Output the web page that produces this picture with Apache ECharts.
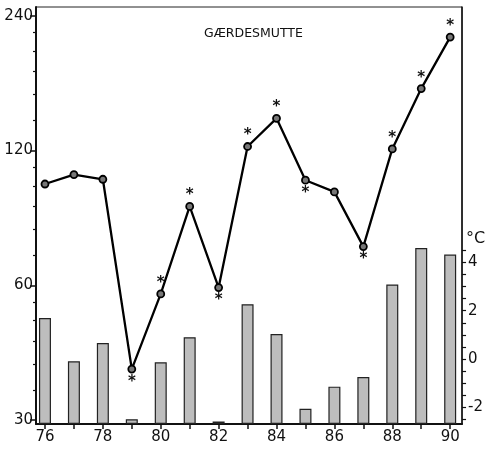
<!DOCTYPE html>
<html>
<head>
<meta charset="utf-8">
<script src="https://cdn.jsdelivr.net/npm/echarts@6/dist/echarts.min.js"></script>
<style>html,body{margin:0;padding:0;background:#fff}#c{width:486px;height:449px}</style>
</head>
<body>
<div id="c"></div>
<script>
// ---- data ----
var years = [76, 77, 78, 79, 80, 81, 82, 83, 84, 85, 86, 87, 88, 89, 90];
var birdIndex = [101, 106, 103.5, 39, 57.4, 90, 59.3, 122.5, 141.6, 103, 97, 73.2, 121, 165, 215];
var temperature = [1.7, -0.1, 0.66, -2.5, -0.14, 0.9, -2.6, 2.27, 1.03, -2.07, -1.15, -0.75, 3.09, 4.6, 4.33];
// asterisk markers: 'top' = above the point, 'bottom' = below, '' = none
var significance = ['', '', '', 'bottom', 'top', 'top', 'bottom', 'top', 'top', 'bottom', '', 'bottom', 'top', 'top', 'top'];
var xLabels = [76, 78, 80, 82, 84, 86, 88, 90];
var leftLabels = [30, 60, 120, 240];
var leftMinor = [35, 40, 45, 50, 55, 70, 80, 90, 100, 110, 140, 160, 180, 200, 220];
var rightLabels = [-2, 0, 2, 4];
var rightTicks = [-2.5, -2, -1.5, -1, -0.5, 0, 0.5, 1, 1.5, 2, 2.5, 3, 3.5, 4, 4.5];
var title = 'GÆRDESMUTTE';

// ---- chart ----
var tBase = -2.7, tTop = 14.6;
var FONT = 'DejaVu Sans';
var chart = echarts.init(document.getElementById('c'));

var barData = years.map(function (y, i) { return [y, temperature[i] - tBase]; });
var lineData = years.map(function (y, i) {
  var item = { value: [y, birdIndex[i]] };
  if (significance[i]) {
    item.label = { show: true, position: significance[i], distance: significance[i] === 'top' ? -1 : 1 };
  }
  return item;
});

chart.setOption({
  animation: false,
  title: {
    text: title, left: 199, top: 22,
    textStyle: { fontFamily: FONT, fontSize: 12.5, fontWeight: 'normal', color: '#111' }
  },
  graphic: [{
    type: 'text', left: 466, top: 231,
    style: { text: '°C', font: '16px ' + FONT, fill: '#111' }
  }],
  grid: { left: 36, right: 23, top: 7, bottom: 25, show: true, borderColor: '#222', borderWidth: 1 },
  xAxis: {
    type: 'value', min: 75.69, max: 90.41,
    axisLine: { show: true, lineStyle: { color: '#111', width: 2 } },
    axisTick: { show: true, length: 5, lineStyle: { color: '#111', width: 1.5 }, customValues: years },
    axisLabel: { customValues: xLabels, fontFamily: FONT, fontSize: 15, color: '#111', margin: 6 },
    splitLine: { show: false }
  },
  yAxis: [
    {
      type: 'log', logBase: 2, min: 29.4, max: 251, position: 'left',
      axisLine: { show: true, lineStyle: { color: '#111', width: 2 } },
      axisTick: { show: true, length: 6, lineStyle: { color: '#111', width: 1.5 }, customValues: leftLabels },
      axisLabel: { customValues: leftLabels, fontFamily: FONT, fontSize: 15, color: '#111', margin: 3 },
      splitLine: { show: false }
    },
    {
      type: 'log', logBase: 2, min: 29.4, max: 251, position: 'left',
      axisLine: { show: false },
      axisTick: { show: true, length: 3, lineStyle: { color: '#111', width: 1.2 }, customValues: leftMinor },
      axisLabel: { show: false },
      splitLine: { show: false }
    },
    {
      type: 'value', min: 0, max: tTop - tBase, position: 'right',
      axisLine: { show: true, lineStyle: { color: '#111', width: 1.5 } },
      axisTick: { show: true, length: 4, lineStyle: { color: '#111', width: 1.2 },
        customValues: rightTicks.map(function (v) { return v - tBase; }) },
      axisLabel: {
        customValues: rightLabels.map(function (v) { return v - tBase; }),
        formatter: function (v) { return String(Math.round(v + tBase)); },
        fontFamily: FONT, fontSize: 15, color: '#111', margin: 6
      },
      splitLine: { show: false }
    }
  ],
  series: [
    {
      type: 'bar', yAxisIndex: 2, data: barData, barWidth: 12,
      itemStyle: { color: '#bdbdbd', borderColor: '#222', borderWidth: 1.2 },
      z: 1
    },
    {
      type: 'line', yAxisIndex: 0, data: lineData,
      lineStyle: { color: '#000', width: 2.3 },
      symbol: 'circle', symbolSize: 7,
      itemStyle: { color: '#777', borderColor: '#000', borderWidth: 1.8 },
      label: { show: false, formatter: '*', fontFamily: FONT, fontSize: 15, fontWeight: 'bold', color: '#111' },
      z: 3
    }
  ]
});
</script>
</body>
</html>
